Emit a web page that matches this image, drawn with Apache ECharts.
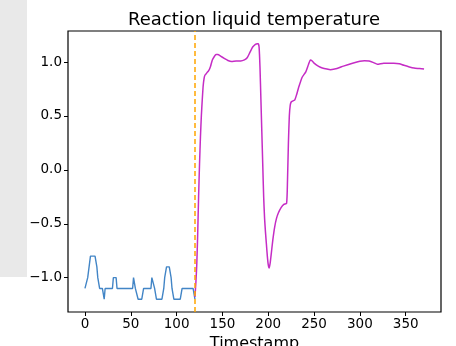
<!DOCTYPE html>
<html>
<head>
<meta charset="utf-8">
<script src="https://cdn.jsdelivr.net/npm/echarts@6/dist/echarts.min.js"></script>
<style>
html,body{margin:0;padding:0;background:#fff;}
#chart{width:456px;height:346px;}
</style>
</head>
<body>
<div id="chart"></div>
<script>
// ---- data ----
const titleText = "Reaction liquid temperature";
const xAxisName = "Timestamp";
const xTicks = [0, 50, 100, 150, 200, 250, 300, 350];
const yTicks = [-1.0, -0.5, 0.0, 0.5, 1.0];
const splitAt = 120;

const blueX = [0, 2, 3, 6, 11, 13, 14, 16, 19, 21, 22, 30, 31, 34, 35, 52, 53, 54, 55, 56, 58, 62, 64, 72, 73, 75, 76, 78, 84, 86, 87, 89, 92, 94, 95, 97, 104, 106, 118, 120];
const blueY = [-1.1, -1.1, -1.0, -0.8, -0.8, -0.9, -1.0, -1.1, -1.1, -1.2, -1.1, -1.1, -1.0, -1.0, -1.1, -1.1, -1.0, -1.0, -1.1, -1.1, -1.2, -1.2, -1.1, -1.1, -1.0, -1.0, -1.1, -1.2, -1.2, -1.1, -1.0, -0.9, -0.9, -1.0, -1.1, -1.2, -1.2, -1.1, -1.1, -1.2];

const pinkX = [120, 121, 122, 123, 124, 125, 126, 127, 128, 129, 130, 131, 133, 135, 137, 139, 141, 143, 145, 148, 152, 156, 160, 165, 170, 174, 177, 180, 183, 186, 188, 189, 190, 191, 192, 193, 194, 195, 196, 197, 198, 199, 200, 201, 202, 203, 205, 207, 209, 211, 214, 217, 220, 221, 222, 223, 224, 225, 227, 229, 231, 233, 237, 241, 244, 246, 248, 250, 255, 259, 264, 268, 275, 282, 292, 300, 305, 310, 315, 319, 326, 332, 337, 343, 348, 354, 359, 365, 370];
const pinkY = [-1.18, -1.05, -0.88, -0.6, -0.25, 0.05, 0.3, 0.5, 0.65, 0.78, 0.85, 0.88, 0.9, 0.92, 0.96, 1.02, 1.05, 1.07, 1.07, 1.055, 1.035, 1.015, 1.005, 1.01, 1.01, 1.02, 1.04, 1.09, 1.14, 1.165, 1.17, 1.17, 1.14, 0.95, 0.65, 0.35, 0.05, -0.25, -0.45, -0.58, -0.69, -0.8, -0.88, -0.91, -0.87, -0.8, -0.65, -0.53, -0.45, -0.4, -0.35, -0.32, -0.31, -0.1, 0.25, 0.5, 0.6, 0.63, 0.64, 0.65, 0.7, 0.76, 0.86, 0.91, 0.98, 1.02, 1.01, 0.99, 0.96, 0.945, 0.935, 0.93, 0.94, 0.963, 0.99, 1.008, 1.012, 1.01, 0.995, 0.98, 0.99, 0.99, 0.99, 0.985, 0.97, 0.955, 0.945, 0.94, 0.935];

// ---- build ----
const zip = (xs, ys) => xs.map((x, i) => [x, ys[i]]);
const fmtY = v => (v < 0 ? '\u2212' : '') + Math.abs(v).toFixed(1);
const font = 'DejaVu Sans';

const chart = echarts.init(document.getElementById('chart'), null, {renderer: 'canvas'});
chart.setOption({
  animation: false,
  backgroundColor: '#ffffff',
  graphic: [{
    type: 'rect', left: 0, top: 0, z: -10,
    shape: {width: 27, height: 277},
    style: {fill: '#e9e9e9'}
  }],
  title: {
    text: titleText, left: 128, top: 11, padding: 0,
    textStyle: {fontFamily: font, fontSize: 18, fontWeight: 'normal', color: '#000'}
  },
  grid: {
    left: 68, top: 31, width: 373, height: 281,
    outerBoundsMode: 'none', containLabel: false,
    show: true, borderColor: '#000', borderWidth: 1.2, backgroundColor: '#fff'
  },
  xAxis: {
    type: 'value', min: -18.5, max: 388.5,
    name: xAxisName, nameLocation: 'middle', nameGap: 17,
    nameTextStyle: {fontFamily: font, fontSize: 16, color: '#000'},
    axisLine: {show: false, onZero: false},
    splitLine: {show: false},
    axisTick: {show: true, length: 4, inside: false, lineStyle: {color: '#000', width: 1}, customValues: xTicks},
    axisLabel: {margin: 5, fontFamily: font, fontSize: 13.5, color: '#000', customValues: xTicks, formatter: v => String(v)}
  },
  yAxis: {
    type: 'value', min: -1.3185, max: 1.2885,
    axisLine: {show: false, onZero: false},
    splitLine: {show: false},
    axisTick: {show: true, length: 4, inside: false, lineStyle: {color: '#000', width: 1}, customValues: yTicks},
    axisLabel: {margin: 6, fontFamily: font, fontSize: 13.5, color: '#000', customValues: yTicks, formatter: fmtY}
  },
  series: [
    {
      type: 'line', data: zip(blueX, blueY), showSymbol: false,
      lineStyle: {color: '#4285c6', width: 1.4}
    },
    {
      type: 'line', data: zip(pinkX, pinkY), showSymbol: false, smooth: 0.2,
      lineStyle: {color: '#c52cc5', width: 1.5},
      markLine: {
        silent: true, symbol: 'none', label: {show: false},
        lineStyle: {color: '#ffa500', type: [5, 3], width: 1.5},
        data: [{xAxis: splitAt}]
      }
    }
  ]
});
</script>
</body>
</html>
